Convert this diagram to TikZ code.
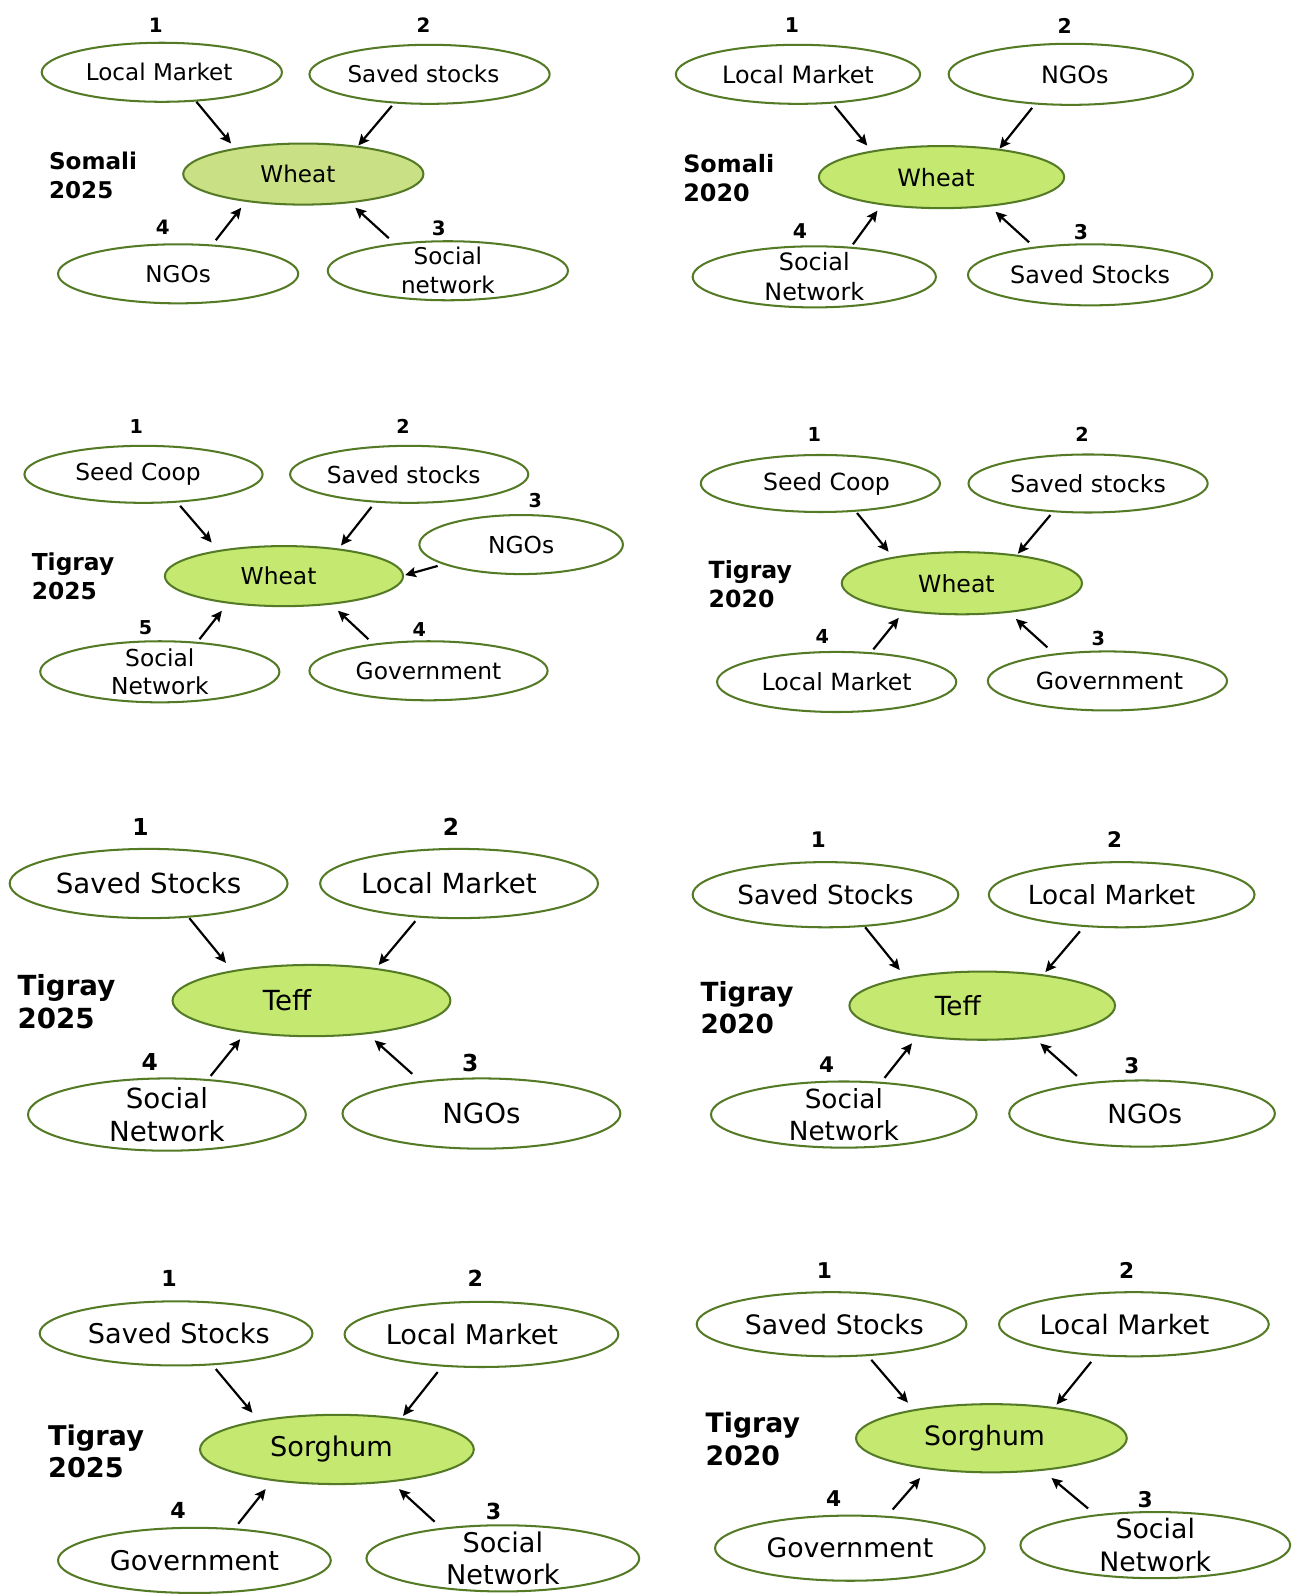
\documentclass[tikz,border=0pt]{standalone}
\usepackage{fontspec}
\setmainfont{DejaVu Sans}
\usetikzlibrary{shapes.geometric,arrows.meta}
\definecolor{edgegreen}{RGB}{84,122,38}
\definecolor{cropgreen}{RGB}{196,232,112}
\definecolor{cropgreenA}{RGB}{202,224,132}
\tikzset{
  sz/.style 2 args={minimum width={#1*0.75pt}, minimum height={#2*0.75pt}},
  src/.style={ellipse, draw=edgegreen, line width=1.5pt, fill=white, inner sep=0pt, outer sep=0pt},
  ctr/.style={src, fill=cropgreen},
  txt/.style={align=center, inner sep=0pt, font=\bodyfont},
  num/.style={font=\numfont\bfseries, inner sep=0pt},
  lab/.style={font=\bodyfont\bfseries, align=left, anchor=west, inner sep=0pt},
  arr/.style={-{Stealth[length=8pt,width=7.5pt,inset=1.5pt]}, line width=1.6pt, black},
}
\newcommand\flow[3]{\coordinate (#1s) at (#2); \coordinate (#1e) at (#3); \draw[arr] (#1s) -- (#1e);}
\begin{document}
\begin{tikzpicture}[x=0.75pt,y=-0.75pt]
\fill[white] (0,0) rectangle (1274,1568);
\useasboundingbox (0,0) rectangle (1274,1568);

% ---------- Panel A: Somali 2025 ----------
\begin{scope}
\def\bodyfont{\fontsize{17}{21.5}\selectfont}
\def\numfont{\fontsize{14.6}{17}\selectfont}
\node[num] (nA1) at (153,25) {1};
\node[num] (nA2) at (416,25) {2};
\node[num] (nA4) at (160,223) {4};
\node[num] (nA3) at (431,224) {3};
\node[src, sz={236}{58}, label={[txt,xshift=-2pt]center:Local Market}] (A1) at (159,71) {};
\node[src, sz={236}{58}, label={[txt,xshift=-4.5pt]center:Saved stocks}] (A2) at (422,73) {};
\node[ctr, fill=cropgreenA, sz={236}{60}, label={[txt,xshift=-4pt]center:Wheat}] (A0) at (298,171) {};
\node[src, sz={236}{58}, label={[txt]center:NGOs}] (A4) at (175,269) {};
\node[src, sz={236}{58}, label={[txt]center:Social\\network}] (A3) at (440,266) {};
\node[lab] (LA) at (48,172) {Somali\\2025};
\flow{fA1}{193,100}{227,141}
\flow{fA2}{385,104}{352,143}
\flow{fA4}{212,236}{237,204}
\flow{fA3}{382,234}{349,204}
\end{scope}

% ---------- Panel B: Somali 2020 ----------
\begin{scope}
\def\bodyfont{\fontsize{17.6}{22}\selectfont}
\def\numfont{\fontsize{15}{17}\selectfont}
\node[num] (nB1) at (778,25) {1};
\node[num] (nB2) at (1046,25) {2};
\node[num] (nB4) at (786,227) {4};
\node[num] (nB3) at (1062,228) {3};
\node[src, sz={240}{58}, label={[txt]center:Local Market}] (B1) at (784,73) {};
\node[src, sz={240}{60}, label={[txt,xshift=3pt]center:NGOs}] (B2) at (1052,73) {};
\node[ctr, sz={241}{61}, label={[txt,xshift=-4pt]center:Wheat}] (B0) at (925,174) {};
\node[src, sz={239}{60}, label={[txt]center:Social\\Network}] (B4) at (800,272) {};
\node[src, sz={240}{60}, label={[txt]center:Saved Stocks}] (B3) at (1071,270) {};
\node[lab] (LB) at (671,175) {Somali\\2020};
\flow{fB1}{820,104}{852,143}
\flow{fB2}{1014,106}{982,146}
\flow{fB4}{838,240}{862,207}
\flow{fB3}{1011,238}{978,208}
\end{scope}

% ---------- Panel C: Tigray 2025 wheat ----------
\begin{scope}
\def\bodyfont{\fontsize{17.2}{21}\selectfont}
\def\numfont{\fontsize{14.1}{16}\selectfont}
\node[num] (nC1) at (134,419) {1};
\node[num] (nC2) at (396,419) {2};
\node[num] (nC3) at (526,492) {3};
\node[num] (nC5) at (143,617) {5};
\node[num] (nC4) at (412,618) {4};
\node[src, sz={234}{56}, label={[txt,xshift=-4pt]center:Seed Coop}] (C1) at (141,466) {};
\node[src, sz={234}{56}, label={[txt,xshift=-4pt]center:Saved stocks}] (C2) at (402,466) {};
\node[src, sz={200}{58}, label={[txt]center:NGOs}] (C3) at (512,535) {};
\node[ctr, sz={234}{59}, label={[txt,xshift=-4pt]center:Wheat}] (C0) at (279,566) {};
\node[src, sz={235}{60}, label={[txt]center:Social\\Network}] (C5) at (157,660) {};
\node[src, sz={234}{58}, label={[txt]center:Government}] (C4) at (421,659) {};
\node[lab] (LC) at (31,566) {Tigray\\2025};
\flow{fC1}{177,497}{208,533}
\flow{fC2}{365,498}{335,536}
\flow{fC3}{430,556}{398,565}
\flow{fC5}{196,628}{218,600}
\flow{fC4}{362,628}{332,600}
\end{scope}

% ---------- Panel D: Tigray 2020 wheat ----------
\begin{scope}
\def\bodyfont{\fontsize{17.4}{21}\selectfont}
\def\numfont{\fontsize{14.2}{16}\selectfont}
\node[num] (nD1) at (800,427) {1};
\node[num] (nD2) at (1063,427) {2};
\node[num] (nD4) at (808,625) {4};
\node[num] (nD3) at (1079,627) {3};
\node[src, sz={235}{56}, label={[txt,xshift=4.5pt]center:Seed Coop}] (D1) at (806,475) {};
\node[src, sz={235}{57}, label={[txt]center:Saved stocks}] (D2) at (1069,475) {};
\node[ctr, sz={236}{61}, label={[txt,xshift=-4pt]center:Wheat}] (D0) at (945,573) {};
\node[src, sz={235}{59}, label={[txt]center:Local Market}] (D4) at (822,670) {};
\node[src, sz={235}{58}, label={[txt,xshift=1.5pt]center:Government}] (D3) at (1088,669) {};
\node[lab] (LD) at (696,574) {Tigray\\2020};
\flow{fD1}{842,504}{873,542}
\flow{fD2}{1032,506}{1000,544}
\flow{fD4}{858,638}{883,607}
\flow{fD3}{1029,636}{998,608}
\end{scope}

% ---------- Panel E: Tigray 2025 teff ----------
\begin{scope}
\def\bodyfont{\fontsize{20.4}{24.5}\selectfont}
\def\numfont{\fontsize{17.2}{19}\selectfont}
\node[num] (nE1) at (138,812) {1};
\node[num] (nE2) at (443,812) {2};
\node[num] (nE4) at (147,1043) {4};
\node[num] (nE3) at (462,1044) {3};
\node[src, sz={273}{68}, label={[txt]center:Saved Stocks}] (E1) at (146,868) {};
\node[src, sz={273}{68}, label={[txt,xshift=-7.5pt]center:Local Market}] (E2) at (451,868) {};
\node[ctr, sz={273}{70}, label={[txt,xshift=-18pt]center:Teff}] (E0) at (306,983) {};
\node[src, sz={273}{71}, label={[txt]center:Social\\Network}] (E4) at (164,1095) {};
\node[src, sz={273}{69}, label={[txt]center:NGOs}] (E3) at (473,1094) {};
\node[lab] (LE) at (17,984) {Tigray\\2025};
\flow{fE1}{186,902}{222,946}
\flow{fE2}{408,905}{372,948}
\flow{fE4}{207,1057}{236,1021}
\flow{fE3}{405,1055}{368,1022}
\end{scope}

% ---------- Panel F: Tigray 2020 teff ----------
\begin{scope}
\def\bodyfont{\fontsize{19.4}{24}\selectfont}
\def\numfont{\fontsize{15.8}{18}\selectfont}
\node[num] (nF1) at (804,825) {1};
\node[num] (nF2) at (1095,825) {2};
\node[num] (nF4) at (812,1046) {4};
\node[num] (nF3) at (1112,1047) {3};
\node[src, sz={261}{64}, label={[txt]center:Saved Stocks}] (F1) at (811,879) {};
\node[src, sz={261}{64}, label={[txt,xshift=-7.5pt]center:Local Market}] (F2) at (1102,879) {};
\node[ctr, sz={261}{67}, label={[txt,xshift=-18pt]center:Teff}] (F0) at (965,988) {};
\node[src, sz={261}{65}, label={[txt]center:Social\\Network}] (F4) at (829,1095) {};
\node[src, sz={261}{65}, label={[txt,xshift=2pt]center:NGOs}] (F3) at (1122,1094) {};
\node[lab] (LF) at (688,990) {Tigray\\2020};
\flow{fF1}{850,911}{884,953}
\flow{fF2}{1061,915}{1027,955}
\flow{fF4}{869,1059}{896,1025}
\flow{fF3}{1058,1057}{1022,1025}
\end{scope}

% ---------- Panel G: Tigray 2025 sorghum ----------
\begin{scope}
\def\bodyfont{\fontsize{20}{24}\selectfont}
\def\numfont{\fontsize{16.3}{18}\selectfont}
\node[num] (nG1) at (166,1256) {1};
\node[num] (nG2) at (467,1256) {2};
\node[num] (nG4) at (175,1484) {4};
\node[num] (nG3) at (485,1485) {3};
\node[src, sz={268}{63}, label={[txt,xshift=2pt]center:Saved Stocks}] (G1) at (173,1310) {};
\node[src, sz={269}{64}, label={[txt,xshift=-7pt]center:Local Market}] (G2) at (473,1311) {};
\node[ctr, sz={269}{68}, label={[txt,xshift=-4pt]center:Sorghum}] (G0) at (331,1424) {};
\node[src, sz={268}{64}, label={[txt]center:Government}] (G4) at (191,1533) {};
\node[src, sz={268}{65}, label={[txt]center:Social\\Network}] (G3) at (494,1531) {};
\node[lab] (LG) at (47,1426) {Tigray\\2025};
\flow{fG1}{212,1345}{248,1388}
\flow{fG2}{430,1348}{396,1391}
\flow{fG4}{234,1497}{261,1463}
\flow{fG3}{427,1495}{392,1463}
\end{scope}

% ---------- Panel H: Tigray 2020 sorghum ----------
\begin{scope}
\def\bodyfont{\fontsize{19.7}{24}\selectfont}
\def\numfont{\fontsize{16}{18}\selectfont}
\node[num] (nH1) at (810,1248) {1};
\node[num] (nH2) at (1107,1248) {2};
\node[num] (nH4) at (819,1472) {4};
\node[num] (nH3) at (1125,1473) {3};
\node[src, sz={265}{63}, label={[txt,xshift=2pt]center:Saved Stocks}] (H1) at (817,1301) {};
\node[src, sz={265}{63}, label={[txt,xshift=-7pt]center:Local Market}] (H2) at (1114,1301) {};
\node[ctr, sz={266}{67}, label={[txt,xshift=-5pt]center:Sorghum}] (H0) at (974,1413) {};
\node[src, sz={265}{64}, label={[txt]center:Government}] (H4) at (835,1521) {};
\node[src, sz={265}{65}, label={[txt]center:Social\\Network}] (H3) at (1135,1518) {};
\node[lab] (LH) at (693,1414) {Tigray\\2020};
\flow{fH1}{856,1336}{892,1378}
\flow{fH2}{1072,1338}{1038,1380}
\flow{fH4}{877,1483}{904,1452}
\flow{fH3}{1069,1482}{1033,1452}
\end{scope}
\end{tikzpicture}
\end{document}
